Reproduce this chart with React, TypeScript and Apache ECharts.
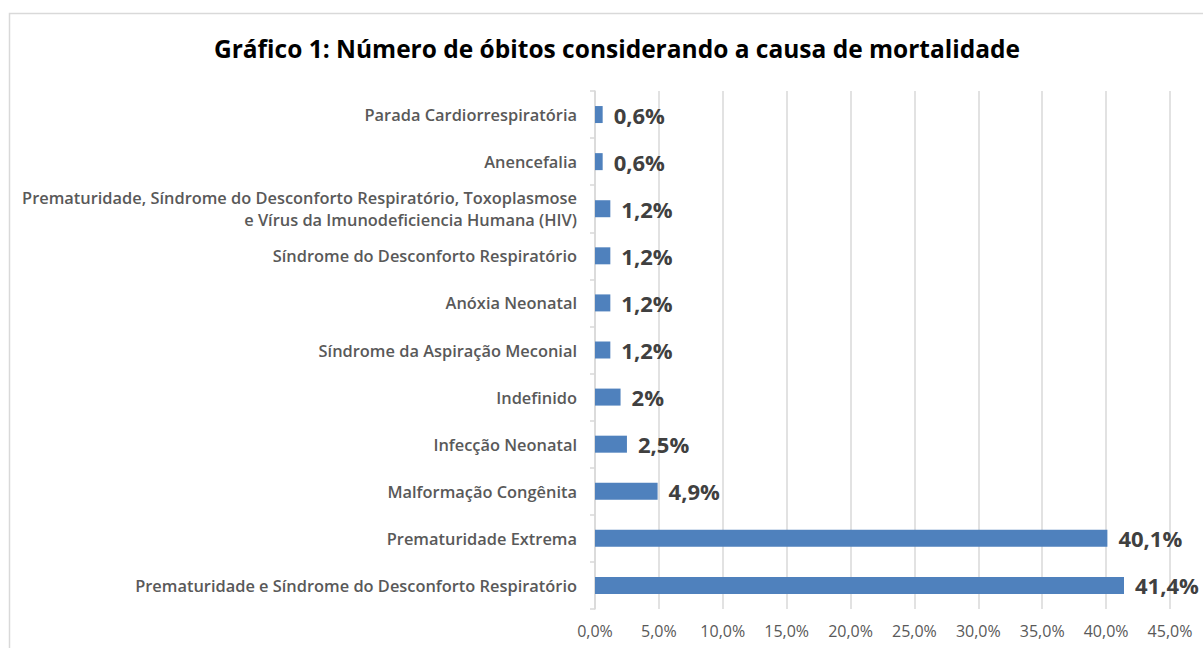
import React, { useEffect, useRef } from "react";
import * as echarts from "echarts";

const titleText = "Gráfico 1: Número de óbitos considerando a causa de mortalidade";
const categories = [
  "Parada Cardiorrespiratória",
  "Anencefalia",
  "Prematuridade, Síndrome do Desconforto Respiratório, Toxoplasmose\ne Vírus da Imunodeficiencia Humana (HIV)",
  "Síndrome do Desconforto Respiratório",
  "Anóxia Neonatal",
  "Síndrome da Aspiração Meconial",
  "Indefinido",
  "Infecção Neonatal",
  "Malformação Congênita",
  "Prematuridade Extrema",
  "Prematuridade e Síndrome do Desconforto Respiratório",
];
const values = [0.6, 0.6, 1.2, 1.2, 1.2, 1.2, 2, 2.5, 4.9, 40.1, 41.4];
const valueLabels = ["0,6%", "0,6%", "1,2%", "1,2%", "1,2%", "1,2%", "2%", "2,5%", "4,9%", "40,1%", "41,4%"];
const axisMax = 45;
const axisInterval = 5;

export default function App() {
  const ref = useRef<HTMLDivElement>(null);
  useEffect(() => {
    const chart = echarts.init(ref.current!, null, { renderer: "svg" });
    chart.setOption({
      animation: false,
      backgroundColor: "#ffffff",
      title: {
        text: titleText,
        left: 612,
        top: 31,
        textAlign: "center",
        textStyle: { fontFamily: "Open Sans", fontWeight: "bold", fontSize: 24.5, color: "#000000" },
      },
      graphic: [
        {
          type: "rect",
          shape: { x: 9.5, y: 13.5, width: 1300, height: 700 },
          style: { fill: "none", stroke: "#d9d9d9", lineWidth: 1.5 },
          silent: true,
        },
      ],
      grid: { left: 595, right: 1203 - 1170, top: 91, bottom: 648 - 609, containLabel: false },
      xAxis: {
        type: "value",
        min: 0,
        max: axisMax,
        interval: axisInterval,
        axisLine: { show: false },
        axisTick: { show: false },
        splitLine: { show: true, lineStyle: { color: "#d9d9d9", width: 1.5 } },
        axisLabel: {
          formatter: (v: number) => v.toFixed(1).replace(".", ",") + "%",
          color: "#595959",
          fontFamily: "Open Sans",
          fontSize: 16,
          margin: 14,
        },
      },
      yAxis: {
        type: "category",
        data: categories,
        inverse: true,
        axisLine: { show: true, lineStyle: { color: "#d9d9d9", width: 1.5 } },
        axisTick: { show: true, length: 5, lineStyle: { color: "#d9d9d9", width: 1.5 } },
        axisLabel: {
          color: "#595959",
          fontFamily: "Open Sans",
          fontWeight: 600,
          fontSize: 16.4,
          margin: 18,
          lineHeight: 22,
          align: "right",
        },
      },
      series: [
        {
          type: "bar",
          data: values,
          barWidth: 17,
          itemStyle: { color: "#4f81bd" },
          label: {
            show: true,
            position: "right",
            distance: 11,
            formatter: (p: any) => valueLabels[p.dataIndex],
            color: "#404040",
            fontFamily: "Open Sans",
            fontWeight: "bold",
            fontSize: 22,
          },
        },
      ],
    });
    return () => chart.dispose();
  }, []);
  return (
    <div
      ref={ref}
      style={{ position: "absolute", left: 0, top: 0, width: 1203, height: 648 }}
    />
  );
}
